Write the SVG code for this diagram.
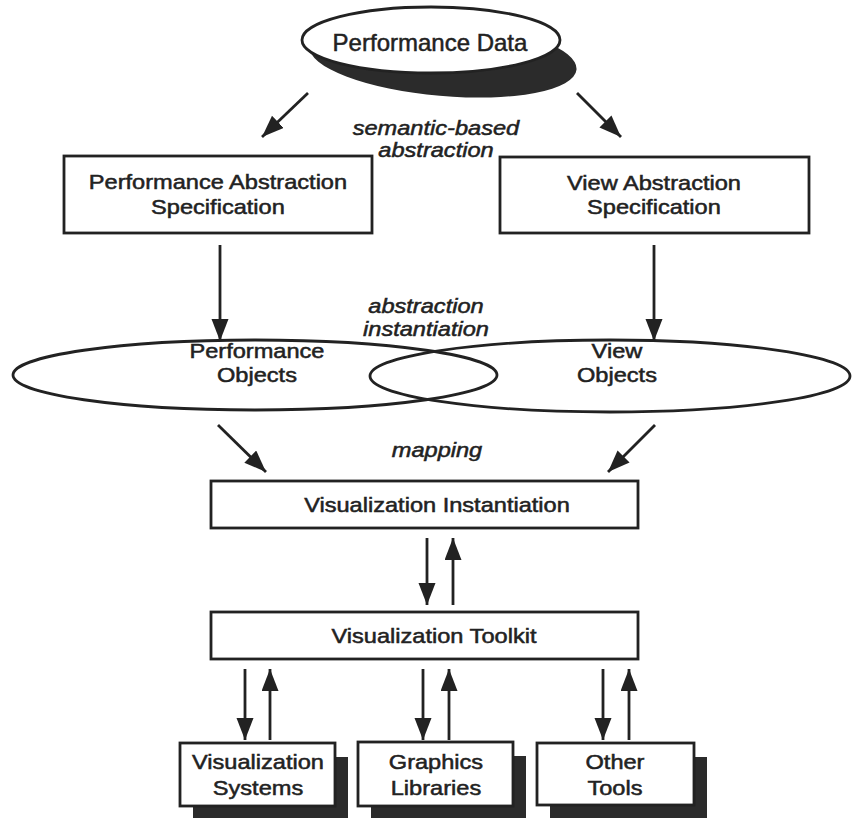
<svg xmlns="http://www.w3.org/2000/svg" width="852" height="818" viewBox="0 0 852 818">
  <style>
    .box { fill: #fff; stroke: #222; stroke-width: 2.8; }
    .oval { fill: none; stroke: #222; stroke-width: 2.8; }
    .shadow { fill: #2b2b2b; stroke: none; }
    .lbl { font-family: "Liberation Sans", Arial, Helvetica, sans-serif; font-size: 20px; fill: #222; stroke: #222; stroke-width: 0.5px; text-anchor: middle;
           transform-box: fill-box; transform-origin: center; transform: scaleX(1.18); }
    .ital { font-style: italic; }
    .title { font-family: "Liberation Sans", Arial, Helvetica, sans-serif; font-size: 24px; fill: #222; stroke: #222; stroke-width: 0.5px; text-anchor: middle; }
    .conn line { stroke: #222; stroke-width: 2.8; marker-end: url(#head); }
  </style>
  <defs>
    <marker id="head" markerUnits="userSpaceOnUse" markerWidth="24" markerHeight="18" refX="22" refY="8.5" orient="auto">
      <path d="M0,0 L22,8.5 L0,17 Z" fill="#222"/>
    </marker>
  </defs>

  <rect width="852" height="818" fill="#fff"/>

  <!-- source data with drop shadow -->
  <g id="performance-data">
    <ellipse class="shadow" cx="443" cy="58" rx="134" ry="38" transform="rotate(5 443 58)"/>
    <ellipse cx="431" cy="40" rx="129" ry="33" fill="#fff" stroke="#222" stroke-width="2.8"/>
    <text class="title" x="430" y="51">Performance Data</text>
  </g>

  <text class="lbl ital" x="436" y="135">semantic-based</text>
  <text class="lbl ital" x="436" y="157">abstraction</text>

  <g id="performance-abstraction-spec">
    <rect class="box" x="64" y="156" width="308" height="77"/>
    <text class="lbl" x="218" y="189">Performance Abstraction</text>
    <text class="lbl" x="218" y="214">Specification</text>
  </g>

  <g id="view-abstraction-spec">
    <rect class="box" x="500" y="157" width="309" height="76"/>
    <text class="lbl" x="654" y="190">View Abstraction</text>
    <text class="lbl" x="654" y="214">Specification</text>
  </g>

  <text class="lbl ital" x="426" y="313">abstraction</text>
  <text class="lbl ital" x="426" y="336">instantiation</text>

  <!-- overlapping object sets -->
  <g id="performance-objects">
    <ellipse class="oval" cx="255" cy="375" rx="242" ry="35"/>
    <text class="lbl" x="257" y="358">Performance</text>
    <text class="lbl" x="257" y="382">Objects</text>
  </g>

  <g id="view-objects">
    <ellipse class="oval" cx="610" cy="376" rx="240" ry="36"/>
    <text class="lbl" x="617" y="358">View</text>
    <text class="lbl" x="617" y="382">Objects</text>
  </g>

  <text class="lbl ital" x="437" y="457">mapping</text>

  <g id="visualization-instantiation">
    <rect class="box" x="211" y="481" width="427" height="47"/>
    <text class="lbl" x="437" y="512">Visualization Instantiation</text>
  </g>

  <g id="visualization-toolkit">
    <rect class="box" x="211" y="612" width="427" height="47"/>
    <text class="lbl" x="434" y="643">Visualization Toolkit</text>
  </g>

  <g id="visualization-systems">
    <rect class="shadow" x="193" y="757" width="155" height="63"/>
    <rect class="box" x="180" y="743" width="155" height="63"/>
    <text class="lbl" x="258" y="769">Visualization</text>
    <text class="lbl" x="258" y="795">Systems</text>
  </g>

  <g id="graphics-libraries">
    <rect class="shadow" x="371" y="756" width="155" height="64"/>
    <rect class="box" x="358" y="742" width="155" height="64"/>
    <text class="lbl" x="436" y="769">Graphics</text>
    <text class="lbl" x="436" y="795">Libraries</text>
  </g>

  <g id="other-tools">
    <rect class="shadow" x="550" y="757" width="157" height="62"/>
    <rect class="box" x="537" y="743" width="157" height="62"/>
    <text class="lbl" x="615" y="769">Other</text>
    <text class="lbl" x="615" y="795">Tools</text>
  </g>

  <g class="conn" id="connectors">
    <line x1="308" y1="93" x2="262" y2="137"/>
    <line x1="577" y1="93" x2="621" y2="137"/>
    <line x1="220" y1="245" x2="220" y2="341"/>
    <line x1="654" y1="245" x2="654" y2="341"/>
    <line x1="218" y1="425" x2="266" y2="472"/>
    <line x1="655" y1="425" x2="608" y2="472"/>
    <line x1="427" y1="538" x2="427" y2="605"/>
    <line x1="453" y1="605" x2="453" y2="538"/>
    <line x1="245" y1="669" x2="245" y2="740"/>
    <line x1="270" y1="740" x2="270" y2="669"/>
    <line x1="423" y1="669" x2="423" y2="740"/>
    <line x1="449" y1="740" x2="449" y2="669"/>
    <line x1="603" y1="669" x2="603" y2="740"/>
    <line x1="629" y1="740" x2="629" y2="669"/>
  </g>
</svg>
